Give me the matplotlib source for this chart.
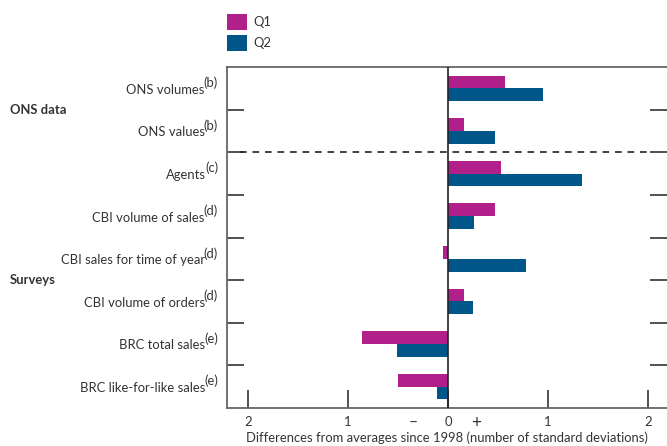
import matplotlib
matplotlib.use("Agg")
import matplotlib.pyplot as plt
import matplotlib.transforms as mtransforms
import numpy as np

categories = [
    "ONS volumes",
    "ONS values",
    "Agents",
    "CBI volume of sales",
    "CBI sales for time of year",
    "CBI volume of orders",
    "BRC total sales",
    "BRC like-for-like sales",
]
notes = ["(b)", "(b)", "(c)", "(d)", "(d)", "(d)", "(e)", "(e)"]
q1 = [0.57, 0.16, 0.53, 0.47, -0.05, 0.16, -0.86, -0.50]
q2 = [0.95, 0.47, 1.34, 0.26, 0.78, 0.25, -0.51, -0.11]
xticks = [-2, -1, 0, 1, 2]
xticklabels = ["2", "1", "0", "1", "2"]
groups = [("ONS data", 0, 1), ("Surveys", 2, 7)]
xlabel = "Differences from averages since 1998 (number of standard deviations)"

plt.rcParams['font.family'] = ['Lato', 'DejaVu Sans']
FS = 9.4
TXT = '#333333'
C1 = '#B01F8A'
C2 = '#005689'

fig = plt.figure(figsize=(6.67, 4.46), dpi=100)
ax = fig.add_axes([227/667, 1-408/446, 440/667, 341/446])

n = len(categories)
y = np.arange(n)
h = 0.3
ax.barh(y - h/2, q1, height=h, color=C1, label='Q1', zorder=3)
ax.barh(y + h/2, q2, height=h, color=C2, label='Q2', zorder=3)

ax.set_xlim(-2.21, 2.19)
ax.set_ylim(n - 0.5, -0.5)

ax.axvline(0, color='#222222', lw=1.2, zorder=4)
ax.plot([-2.08, 1.99], [1.5, 1.5], color='#222222', lw=1.2, ls=(0, (4, 3.5)), zorder=2)

ax.set_yticks(y)
ax.set_yticklabels([""] * n)
ax.set_yticks(np.arange(n - 1) + 0.5, minor=True)
ax.tick_params(axis='y', which='major', length=0, pad=9)
ax.tick_params(axis='y', which='minor', direction='in', left=True, right=True,
               length=12, width=1.2, color='#333333')

ax.set_xticks(xticks)
ax.set_xticklabels(xticklabels, fontsize=FS, color=TXT)
ax.tick_params(axis='x', which='major', direction='in', length=13, width=1.2,
               color='#333333', pad=6)

ax.spines['right'].set_visible(False)
for s in ['top', 'bottom', 'left']:
    ax.spines[s].set_color('#666666')
    ax.spines[s].set_linewidth(1.3)

trans = mtransforms.blended_transform_factory(ax.transData, fig.transFigure)
ax.text(-0.35, 1 - 423/446, "\u2013", transform=trans, ha='center', va='center',
        fontsize=FS + 2, color=TXT)
ax.text(0.28, 1 - 423/446, "+", transform=trans, ha='center', va='center',
        fontsize=FS + 3, color=TXT)

ax.set_xlabel(xlabel, fontsize=FS, color=TXT, labelpad=2)

ytrans = mtransforms.blended_transform_factory(fig.transFigure, ax.transData)
for name, a, b in groups:
    ax.text(10/667, (a + b) / 2, name, transform=ytrans, ha='left', va='center',
            fontsize=FS, fontweight='bold', color=TXT)

# category labels with superscript notes
right_px = 218
fig.canvas.draw()
renderer = fig.canvas.get_renderer()
for i, (cat, note) in enumerate(zip(categories, notes)):
    sup = ax.annotate(note, xy=(right_px / 667, i), xycoords=ytrans,
                      xytext=(0, 4), textcoords='offset points',
                      ha='right', va='center', fontsize=FS, color=TXT)
    w = sup.get_window_extent(renderer).width
    ax.annotate(cat, xy=(right_px / 667, i), xycoords=ytrans,
                xytext=(-(w - 1.0) * 72 / fig.dpi, -1), textcoords='offset points',
                ha='right', va='center', fontsize=FS, color=TXT)

ax.legend(loc='upper left', bbox_to_anchor=(227/667, 1 - 14/446),
          bbox_transform=fig.transFigure, frameon=False, fontsize=FS,
          handlelength=1.5, handleheight=1.5, handletextpad=0.5,
          labelspacing=0.4, borderpad=0, borderaxespad=0, labelcolor=TXT)

fig.savefig('out.png', dpi=100)
